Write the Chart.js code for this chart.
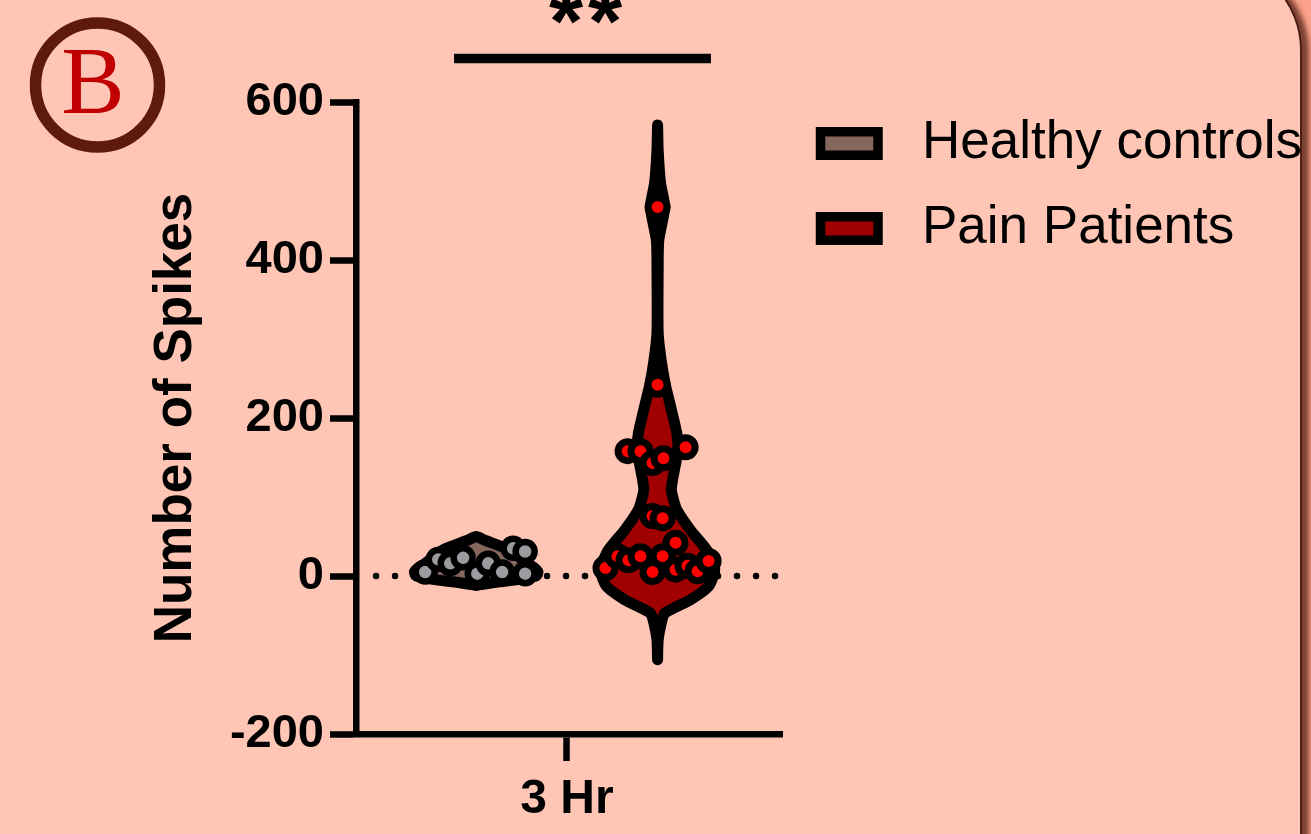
<!DOCTYPE html>
<html>
<head>
<meta charset="utf-8">
<script src="https://cdn.jsdelivr.net/npm/chart.js@4.4.1/dist/chart.umd.min.js"></script>
<style>
  html, body { margin: 0; padding: 0; width: 1311px; height: 834px; overflow: hidden; background: #fda28a; }
  #panel {
    position: absolute; left: -60px; top: -41px; width: 1362px; height: 1000px;
    box-sizing: border-box; background: #ffc6b5;
    border: 2px solid #4a2014; border-radius: 91px;
    box-shadow: 7px 2px 5px rgba(90, 40, 28, 0.8);
  }
  #chart { position: absolute; left: 0; top: 0; }
</style>
</head>
<body>
<div id="panel"></div>
<canvas id="chart" width="1311" height="834"></canvas>
<script>
// Данные
const categories = ["3 Hr"];
const seriesNames = ["Healthy controls", "Pain Patients"];
const yTicks = [-200, 0, 200, 400, 600];
const significance = "**";

// Здоровые: значения и горизонтальный разброс точек
const healthyValues = [5, 21, 16, 23, 3, 16, 5, 35, 31, 3];
const healthyJitter = [-0.242, -0.18, -0.123, -0.062, 0.005, 0.057, 0.123, 0.175, 0.232, 0.232];

// Пациенты с болью
const painValues = [467, 242, 158, 158, 143, 149, 163, 76, 73, 42, 10, 25, 20, 25, 25, 5, 8, 13, 6, 19];
const painJitter = [0, 0, -0.142, -0.081, -0.024, 0.028, 0.133, -0.024, 0.024, 0.085,
                    -0.247, -0.19, -0.138, -0.081, 0.024, -0.024, 0.085, 0.142, 0.19, 0.242];

// Профиль скрипки: уровни Y и относительная плотность
const healthyViolinLevels = [-12, -8, -4, 0, 5, 10, 15, 20, 25, 30, 35, 40, 45, 50];
const healthyViolinDensity = [0, 0.33, 0.75, 1.0, 1.03, 0.97, 0.87, 0.78, 0.7, 0.62, 0.5, 0.33, 0.15, 0];
const painViolinLevels = [-106, -81, -60, -47, -30, -14, 0, 11, 33, 58, 84, 109, 134, 159, 181, 223, 242, 273, 308, 391, 425, 467, 497, 539, 571];
const painViolinDensity = [0, 0.01, 0.06, 0.12, 0.55, 0.84, 0.93, 0.95, 0.82, 0.55, 0.32, 0.23, 0.28, 0.34, 0.32, 0.19, 0.13, 0.06, 0.01, 0.01, 0.02, 0.12, 0.05, 0.01, 0];

// Раскладка
const groupCenters = [-0.43, 0.43];
const violinHalf = 0.2845;
const zeroLineFrom = -0.905;
const zeroLineTo = 0.995;

Chart.defaults.font.family = "'Liberation Sans', Arial, sans-serif";
Chart.defaults.color = "#000";

// Контур скрипки: правая сторона снизу вверх, левая сверху вниз
function violinOutline(center, levels, density) {
  const right = levels.map((v, i) => ({ x: center + density[i] * violinHalf, y: v }));
  const left = levels.map((v, i) => ({ x: center - density[i] * violinHalf, y: v })).reverse();
  return right.concat(left.slice(1));
}

function points(center, values, jitter) {
  return values.map((v, i) => ({ x: center + jitter[i], y: v }));
}

// Подписи, значимость, легенда, значок "B"
const extras = {
  id: "extras",
  afterDraw(chart) {
    const ctx = chart.ctx;
    const x = chart.scales.x;
    const y = chart.scales.y;
    ctx.save();

    // линия значимости
    ctx.strokeStyle = "#000";
    ctx.lineWidth = 9.5;
    ctx.beginPath();
    ctx.moveTo(x.getPixelForValue(-0.535), y.getPixelForValue(655));
    ctx.lineTo(x.getPixelForValue(0.683), y.getPixelForValue(655));
    ctx.stroke();

    // звёздочки, каждая отдельно
    ctx.fillStyle = "#000";
    ctx.font = "bold 88px 'Liberation Sans', Arial, sans-serif";
    ctx.textAlign = "center";
    ctx.textBaseline = "alphabetic";
    [-0.004, 0.181].forEach((pos, i) => {
      ctx.fillText(significance[i], x.getPixelForValue(pos), 51);
    });

    // легенда
    const violins = chart.data.datasets.filter(d => d.isViolin);
    violins.forEach((d, i) => {
      const cy = 143.5 + i * 85;
      ctx.fillStyle = d.backgroundColor;
      ctx.fillRect(820.5, cy - 11.75, 57.5, 23.5);
      ctx.lineWidth = 9.5;
      ctx.strokeStyle = "#000";
      ctx.strokeRect(820.5, cy - 11.75, 57.5, 23.5);
      ctx.fillStyle = "#000";
      ctx.font = "53px 'Liberation Sans', Arial, sans-serif";
      ctx.textAlign = "left";
      ctx.textBaseline = "middle";
      ctx.fillText(d.label, 922, cy);
    });

    // значок панели
    ctx.beginPath();
    ctx.arc(97.5, 85, 62, 0, Math.PI * 2);
    ctx.lineWidth = 11.5;
    ctx.strokeStyle = "#5e1a0c";
    ctx.stroke();
    ctx.fillStyle = "#c00000";
    ctx.font = "95px 'Liberation Serif', 'Times New Roman', serif";
    ctx.textAlign = "center";
    ctx.textBaseline = "alphabetic";
    ctx.fillText("B", 93, 113);

    ctx.restore();
  }
};

new Chart(document.getElementById("chart"), {
  type: "scatter",
  data: {
    datasets: [
      {
        label: seriesNames[0] + " points",
        data: points(groupCenters[0], healthyValues, healthyJitter),
        pointRadius: 9.5,
        pointBorderWidth: 6.5,
        pointBackgroundColor: "#9b9ba0",
        pointBorderColor: "#000",
        order: 1
      },
      {
        label: seriesNames[1] + " points",
        data: points(groupCenters[1], painValues, painJitter),
        pointRadius: 9.5,
        pointBorderWidth: 7,
        pointBackgroundColor: "#ff0000",
        pointBorderColor: "#000",
        order: 0
      },
      {
        type: "line",
        isViolin: true,
        label: seriesNames[0],
        data: violinOutline(groupCenters[0], healthyViolinLevels, healthyViolinDensity),
        backgroundColor: "#86675d",
        borderColor: "#000",
        borderWidth: 11,
        borderJoinStyle: "round",
        borderCapStyle: "round",
        tension: 0.2,
        fill: "shape",
        pointRadius: 0,
        clip: false,
        order: 3
      },
      {
        type: "line",
        isViolin: true,
        label: seriesNames[1],
        data: violinOutline(groupCenters[1], painViolinLevels, painViolinDensity),
        backgroundColor: "#a00000",
        borderColor: "#000",
        borderWidth: 11,
        borderJoinStyle: "round",
        borderCapStyle: "round",
        tension: 0.2,
        fill: "shape",
        pointRadius: 0,
        clip: false,
        order: 2
      },
      {
        // пунктир на нуле
        type: "line",
        label: "zero",
        data: [{ x: zeroLineFrom, y: 0 }, { x: zeroLineTo, y: 0 }],
        borderColor: "#000",
        borderWidth: 6.5,
        borderDash: [0, 19],
        borderCapStyle: "round",
        pointRadius: 0,
        fill: false,
        order: 4
      }
    ]
  },
  options: {
    responsive: false,
    animation: false,
    layout: { padding: { left: 0, top: 102, right: 529, bottom: 0 } },
    plugins: {
      legend: { display: false },
      tooltip: { enabled: false }
    },
    scales: {
      x: {
        type: "linear",
        min: -1,
        max: 1.02,
        afterBuildTicks: s => { s.ticks = [{ value: 0 }]; },
        afterFit: s => { s.height = 100; },
        ticks: {
          callback: () => categories[0],
          font: { size: 48, weight: "bold" },
          color: "#000",
          padding: 10,
          maxRotation: 0,
          autoSkip: false
        },
        grid: { drawOnChartArea: false, tickLength: 27, tickWidth: 6.5, tickColor: "#000" },
        border: { width: 6.5, color: "#000" }
      },
      y: {
        min: yTicks[0],
        max: yTicks[yTicks.length - 1],
        afterBuildTicks: s => { s.ticks = yTicks.map(v => ({ value: v })); },
        afterFit: s => { s.width = 356; },
        ticks: {
          font: { size: 47, weight: "bold" },
          color: "#000",
          padding: 6
        },
        grid: { drawOnChartArea: false, tickLength: 26, tickWidth: 6.5, tickColor: "#000" },
        border: { width: 6.5, color: "#000" },
        title: {
          display: true,
          text: "Number of Spikes",
          font: { size: 53, weight: "bold" },
          color: "#000",
          padding: { top: 145, bottom: 0 }
        }
      }
    }
  },
  plugins: [extras]
});
</script>
</body>
</html>
